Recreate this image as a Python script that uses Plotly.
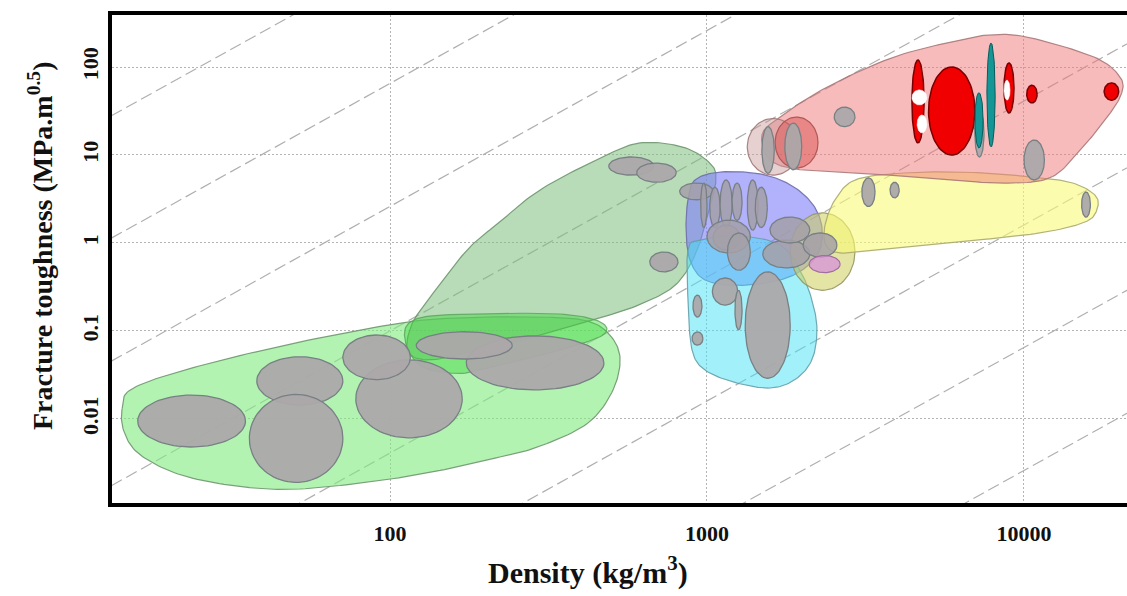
import numpy as np
import plotly.graph_objects as go

# ---------------- axis ticks ----------------
x_ticks = [100, 1000, 10000]
x_tick_text = ["100", "1000", "10000"]
y_ticks = [0.01, 0.1, 1, 10, 100]
y_tick_text = ["0.01", "0.1", "1", "10", "100"]

# ---------------- guide lines: K = C * rho^2 ----------------
guide_C = [1.6e-1, 6.5e-3, 2.6e-4, 1.0e-5, 4.1e-7, 1.6e-8, 6.5e-10, 2.6e-11]

# ---------------- envelopes (density kg/m3, toughness MPa.m^0.5) ----------------
foams_rho = [14.3, 15.5, 25, 52, 108, 166, 297, 418, 494, 532, 501, 418, 297, 222, 144, 93, 52, 34, 22, 16.3, 14.5]
foams_K = [0.0133, 0.0225, 0.040, 0.075, 0.123, 0.141, 0.144, 0.130, 0.090, 0.048, 0.020, 0.0088, 0.0049,
           0.0037, 0.0026, 0.0020, 0.0016, 0.0017, 0.0023, 0.0039, 0.0071]

rigid_foam_rho = [111, 124, 192, 344, 460, 470, 344, 222, 166, 124]
rigid_foam_K = [0.090, 0.141, 0.156, 0.156, 0.127, 0.090, 0.061, 0.041, 0.033, 0.041]

natural_rho = [114, 117, 134, 175, 222, 297, 460, 615, 840, 1021, 1067, 1007, 917, 793, 615, 460, 297, 192, 134]
natural_K = [0.058, 0.117, 0.243, 0.83, 1.73, 4.0, 9.2, 13.7, 12.3, 8.1, 5.2, 2.1, 0.73, 0.33, 0.20, 0.141,
             0.090, 0.061, 0.047]

polymer_rho = [871, 917, 1100, 1470, 1830, 2140, 2300, 2270, 2040, 1700, 1270, 986, 884, 859]
polymer_K = [3.1, 5.2, 6.4, 6.1, 4.6, 2.85, 1.6, 0.83, 0.52, 0.38, 0.33, 0.38, 0.64, 1.4]

elastomer_rho = [871, 951, 1270, 1700, 1965, 2143, 2223, 2143, 1896, 1581, 1225, 986, 897, 871]
elastomer_K = [0.83, 1.08, 1.2, 0.95, 0.49, 0.225, 0.103, 0.047, 0.028, 0.0225, 0.026, 0.036, 0.061, 0.225]

ceramic_rho = [2357, 2535, 2931, 4064, 6285, 9710, 13970, 16750, 16990, 15570, 11230, 6285, 3514, 2630, 2373]
ceramic_K = [1.6, 3.1, 5.2, 6.2, 6.4, 5.8, 4.9, 3.5, 2.4, 1.73, 1.3, 1.03, 0.83, 0.77, 0.95]

metal_rho = [1491, 1700, 2392, 3890, 6285, 7810, 10220, 16630, 20090, 20230, 18020, 15030, 12080, 8400, 5050,
             3040, 1965, 1581]
metal_K = [16.9, 27, 59, 130, 203, 231, 219, 130, 77, 48, 25, 11.4, 5.5, 4.8, 5.5, 6.2, 6.8, 8.8]

# elliptical sub-envelopes: [rho_lo, rho_hi, K_lo, K_hi]
glass_env = [1830, 2930, 0.29, 2.2]
light_alloy_env = [1340, 1950, 5.9, 26]
red_alloy_env = [1640, 2240, 7.1, 27]

# ---------------- material bubbles: property ranges ----------------
foam_rho_lo = [16, 38, 36, 78, 71, 174, 121]
foam_rho_hi = [35, 71, 71, 169, 116, 473, 243]
foam_K_lo = [0.0048, 0.0144, 0.0019, 0.0061, 0.028, 0.0214, 0.048]
foam_K_hi = [0.0187, 0.051, 0.019, 0.047, 0.090, 0.088, 0.098]

nat_rho_lo = [490, 600, 660]
nat_rho_hi = [680, 800, 810]
nat_K_lo = [5.9, 4.9, 0.47]
nat_K_hi = [9.5, 8.1, 0.79]

poly_rho_lo = [820, 955, 1020, 1100, 1200, 1340, 1420, 1045, 1000, 1160, 1500, 1580, 2010]
poly_rho_hi = [1045, 1000, 1100, 1200, 1290, 1450, 1550, 1270, 1370, 1370, 2110, 2110, 2570]
poly_K_lo = [3.1, 1.5, 1.5, 1.5, 1.8, 1.4, 1.5, 0.83, 0.77, 0.49, 0.52, 1.0, 0.69]
poly_K_hi = [4.8, 4.8, 4.3, 5.2, 4.8, 5.2, 4.3, 1.6, 1.82, 1.3, 1.08, 1.97, 1.3]

glass_pink = [2100, 2630, 0.46, 0.72]

elast_rho_lo = [1320, 1040, 1225, 903, 897]
elast_rho_hi = [1830, 1250, 1290, 964, 971]
elast_K_lo = [0.029, 0.197, 0.103, 0.144, 0.069]
elast_K_hi = [0.47, 0.40, 0.29, 0.256, 0.0975]

cer_rho_lo = [3080, 3780, 15200]
cer_rho_hi = [3390, 4040, 16200]
cer_K_lo = [2.6, 3.25, 1.97]
cer_K_hi = [5.5, 4.9, 3.8]

met_gray_rho_lo = [1490, 1760, 2520, 10000, 7000]
met_gray_rho_hi = [1630, 1990, 2930, 11600, 7480]
met_gray_K_lo = [6.2, 6.8, 21, 5.2, 9.5]
met_gray_K_hi = [21, 23, 35, 14.8, 32]

met_red_rho_lo = [4430, 5000, 8650, 10200, 17900]
met_red_rho_hi = [4840, 7000, 9300, 11000, 19900]
met_red_K_lo = [13.7, 10, 30, 39, 42]
met_red_K_hi = [120, 100, 111, 62, 66]

met_white_rho_lo = [4430, 4600, 8650]
met_white_rho_hi = [4940, 4940, 9040]
met_white_K_lo = [37, 17.8, 42]
met_white_K_hi = [55, 28.5, 71]

met_teal_rho_lo = [7000, 7640]
met_teal_rho_hi = [7430, 8110]
met_teal_K_lo = [12, 12.3]
met_teal_K_hi = [51, 187]


# ---------------- helpers ----------------
def smooth_closed(xs, ys, n=14):
    P = np.column_stack([np.log10(xs), np.log10(ys)])
    m = len(P)
    t = np.linspace(0, 1, n, endpoint=False)[:, None]
    out = []
    for i in range(m):
        p0, p1, p2, p3 = P[(i - 1) % m], P[i], P[(i + 1) % m], P[(i + 2) % m]
        pts = 0.5 * (2 * p1 + (-p0 + p2) * t + (2 * p0 - 5 * p1 + 4 * p2 - p3) * t ** 2
                     + (-p0 + 3 * p1 - 3 * p2 + p3) * t ** 3)
        out.append(pts)
    out = np.vstack(out)
    out = np.vstack([out, out[:1]])
    return 10 ** out[:, 0], 10 ** out[:, 1]


def ellipse(rlo, rhi, klo, khi, n=80):
    cx = (np.log10(rlo) + np.log10(rhi)) / 2
    ax = (np.log10(rhi) - np.log10(rlo)) / 2
    cy = (np.log10(klo) + np.log10(khi)) / 2
    ay = (np.log10(khi) - np.log10(klo)) / 2
    th = np.linspace(0, 2 * np.pi, n)
    return 10 ** (cx + ax * np.cos(th)), 10 ** (cy + ay * np.sin(th))


fig = go.Figure()


def add_shape(x, y, fill, line, lw=1.2):
    fig.add_trace(go.Scatter(x=x, y=y, mode="lines", fill="toself", fillcolor=fill,
                             line=dict(color=line, width=lw), hoverinfo="skip", showlegend=False))


def add_bubbles(rlo, rhi, klo, khi, fill, line, lw=1.3):
    for a, b, c, d in zip(rlo, rhi, klo, khi):
        x, y = ellipse(a, b, c, d)
        add_shape(x, y, fill, line, lw)


# guide lines
rho_line = np.array([5.0, 50000.0])
for C in guide_C:
    fig.add_trace(go.Scatter(x=rho_line, y=C * rho_line ** 2, mode="lines",
                             line=dict(color="rgb(175,175,175)", width=1.2, dash="12px,5px"),
                             hoverinfo="skip", showlegend=False))

# envelopes
x, y = smooth_closed(foams_rho, foams_K)
add_shape(x, y, "rgba(130,235,130,0.62)", "rgba(110,150,110,0.9)")
x, y = smooth_closed(natural_rho, natural_K)
add_shape(x, y, "rgba(125,190,125,0.55)", "rgba(110,150,110,0.9)")
x, y = smooth_closed(rigid_foam_rho, rigid_foam_K)
add_shape(x, y, "rgba(60,215,60,0.45)", "rgba(90,160,90,0.8)")
x, y = smooth_closed(polymer_rho, polymer_K)
add_shape(x, y, "rgba(125,125,250,0.6)", "rgba(110,110,170,0.9)")
x, y = smooth_closed(elastomer_rho, elastomer_K)
add_shape(x, y, "rgba(70,225,245,0.5)", "rgba(100,160,170,0.9)")
x, y = ellipse(*glass_env)
add_shape(x, y, "rgba(205,205,90,0.55)", "rgba(150,150,100,0.9)")
x, y = smooth_closed(ceramic_rho, ceramic_K)
add_shape(x, y, "rgba(250,250,120,0.6)", "rgba(170,170,110,0.9)")
x, y = smooth_closed(metal_rho, metal_K)
add_shape(x, y, "rgba(240,120,120,0.5)", "rgba(170,120,120,0.9)")
x, y = ellipse(*light_alloy_env)
add_shape(x, y, "rgba(200,150,150,0.45)", "rgba(160,120,120,0.9)")
x, y = ellipse(*red_alloy_env)
add_shape(x, y, "rgba(215,70,70,0.45)", "rgba(170,80,80,0.9)")

# material bubbles
GRAY = "rgba(172,168,170,0.95)"
GLINE = "rgb(120,128,132)"
add_bubbles(foam_rho_lo, foam_rho_hi, foam_K_lo, foam_K_hi, GRAY, GLINE)
add_bubbles(nat_rho_lo, nat_rho_hi, nat_K_lo, nat_K_hi, GRAY, GLINE)
add_bubbles(poly_rho_lo, poly_rho_hi, poly_K_lo, poly_K_hi, "rgba(165,160,168,0.85)", GLINE)
x, y = ellipse(*glass_pink)
add_shape(x, y, "rgba(215,150,215,0.8)", "rgb(160,110,160)")
add_bubbles(elast_rho_lo, elast_rho_hi, elast_K_lo, elast_K_hi, GRAY, GLINE)
add_bubbles(cer_rho_lo, cer_rho_hi, cer_K_lo, cer_K_hi, GRAY, GLINE)
add_bubbles(met_gray_rho_lo, met_gray_rho_hi, met_gray_K_lo, met_gray_K_hi, GRAY, GLINE)
add_bubbles(met_red_rho_lo, met_red_rho_hi, met_red_K_lo, met_red_K_hi, "rgb(240,0,0)", "rgb(120,0,0)", 1.5)
add_bubbles(met_white_rho_lo, met_white_rho_hi, met_white_K_lo, met_white_K_hi, "rgb(255,255,255)",
            "rgb(255,255,255)", 0.5)
add_bubbles(met_teal_rho_lo, met_teal_rho_hi, met_teal_K_lo, met_teal_K_hi, "rgb(20,150,150)", "rgb(10,90,90)", 1.0)

# ---------------- layout ----------------
W, H = 1127, 596
L, T, B = 112, 15, 93
tick_font = dict(family="Liberation Serif", size=22, color="#111111", weight="bold")

fig.update_layout(
    width=W, height=H,
    margin=dict(l=L, r=0, t=T, b=B, pad=0),
    paper_bgcolor="white", plot_bgcolor="white",
    showlegend=False,
    xaxis=dict(type="log", range=[1.123, 4.325], tickvals=x_ticks, ticktext=x_tick_text,
               showgrid=True, gridcolor="rgb(180,180,180)", griddash="2px,2px", gridwidth=1,
               showline=True, linecolor="black", linewidth=4, mirror=True,
               ticks="", zeroline=False, tickfont=tick_font, ticklabelstandoff=8),
    yaxis=dict(type="log", range=[-2.955, 2.591], tickvals=y_ticks, ticktext=y_tick_text,
               showgrid=True, gridcolor="rgb(180,180,180)", griddash="2px,2px", gridwidth=1,
               showline=True, linecolor="black", linewidth=4, mirror=False,
               ticks="", zeroline=False, tickfont=tick_font, tickangle=-90, ticklabelstandoff=1),
    annotations=[
        dict(text="<b>Density (kg/m<sup>3</sup>)</b>", xref="paper", yref="paper",
             x=(588 - L) / (W - L), y=(H - B - 570) / (H - T - B), xanchor="center", yanchor="middle",
             showarrow=False, font=dict(family="Liberation Serif", size=30, color="#111111")),
        dict(text="<b>Fracture toughness (MPa.m<sup>0.5</sup>)</b>", xref="paper", yref="paper",
             x=(40 - L) / (W - L), y=(H - B - 246) / (H - T - B), xanchor="center", yanchor="middle",
             textangle=-90, showarrow=False,
             font=dict(family="Liberation Serif", size=28, color="#111111")),
    ],
)

fig.write_html("out.html")
